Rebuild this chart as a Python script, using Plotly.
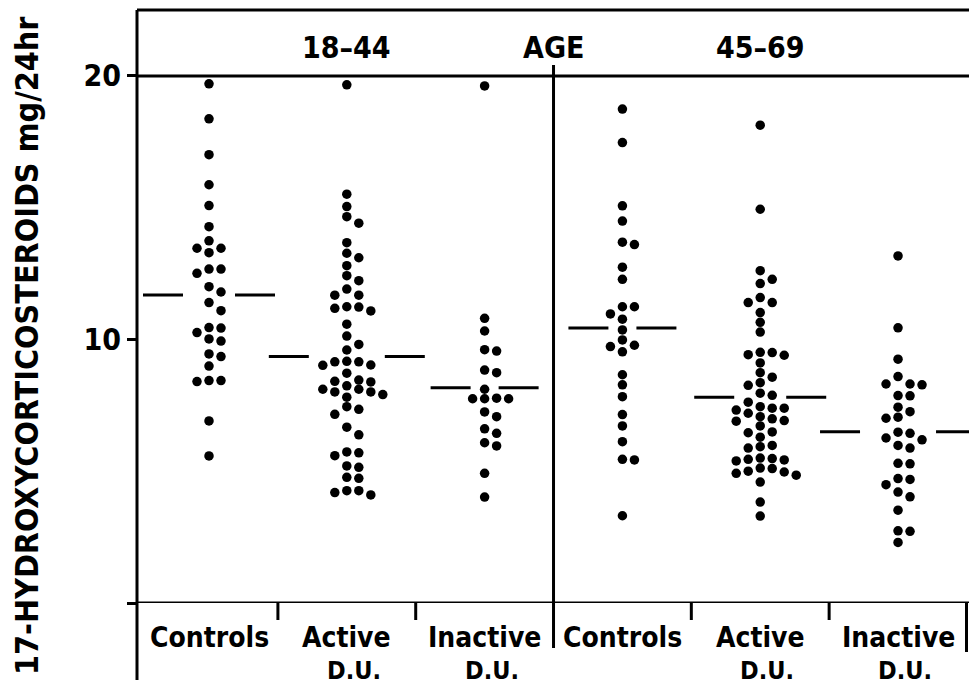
import plotly.graph_objects as go

# ---------------- data ----------------
label_line1 = ["Controls", "Active", "Inactive", "Controls", "Active", "Inactive"]
label_line2 = ["", "D.U.", "D.U.", "", "D.U.", "D.U."]
age_labels = ["18–44", "AGE", "45–69"]
y_title = "17-HYDROXYCORTICOSTEROIDS mg/24hr"
ytick_vals = [0, 10, 20]
ytick_text = ["", "10", "20"]

young_controls = [19.70, 18.37, 17.01, 15.87, 15.08, 14.28, 13.74, 13.46, 13.46, 13.29,
                  12.67, 12.67, 12.51, 12.00, 11.80, 11.40, 11.09, 10.45, 10.43, 10.26,
                  10.02, 9.94, 9.45, 9.35, 8.99, 8.44, 8.44, 8.40, 6.91, 5.58]
young_active = [19.66, 15.51, 15.04, 14.66, 14.41, 13.67, 13.27, 13.10, 12.80, 12.42,
                12.23, 11.91, 11.68, 11.68, 11.24, 11.23, 11.18, 11.08, 10.58, 10.13,
                9.81, 9.60, 9.17, 9.15, 9.15, 9.03, 9.02, 8.72, 8.46, 8.41,
                8.39, 8.24, 8.11, 8.11, 8.01, 8.01, 7.91, 7.81, 7.45, 7.35,
                7.16, 6.67, 6.38, 5.73, 5.70, 5.59, 5.20, 5.15, 4.77, 4.73,
                4.26, 4.26, 4.19, 4.10]
young_inactive = [19.62, 10.80, 10.32, 9.61, 9.56, 8.84, 8.74, 8.11, 7.77, 7.75,
                  7.75, 7.75, 7.25, 7.07, 6.61, 6.44, 6.08, 5.96, 4.92, 4.02]
old_controls = [18.74, 17.47, 15.07, 14.49, 13.69, 13.60, 12.74, 12.28, 11.24, 11.24,
                10.97, 10.77, 10.36, 9.98, 9.78, 9.73, 9.53, 8.66, 8.28, 7.83,
                7.15, 6.72, 6.12, 5.45, 5.43, 3.31]
old_active = [18.13, 14.94, 12.61, 12.28, 12.12, 11.59, 11.40, 11.40, 11.02, 10.65,
              10.28, 9.51, 9.50, 9.42, 9.40, 9.11, 8.74, 8.57, 8.36, 8.26,
              7.96, 7.88, 7.62, 7.45, 7.39, 7.39, 7.32, 7.20, 7.07, 6.99,
              6.92, 6.90, 6.72, 6.49, 6.46, 6.29, 5.98, 5.93, 5.88, 5.50,
              5.48, 5.45, 5.43, 5.39, 5.12, 5.10, 5.00, 4.97, 4.92, 4.85,
              4.59, 3.83, 3.30]
old_inactive = [13.17, 10.44, 9.25, 8.59, 8.31, 8.31, 8.28, 7.87, 7.86, 7.43,
                7.26, 7.05, 7.01, 6.48, 6.44, 6.26, 6.19, 5.98, 5.88, 5.30,
                5.28, 4.72, 4.69, 4.49, 4.21, 4.03, 3.52, 2.74, 2.72, 2.30]
series = [young_controls, young_active, young_inactive, old_controls, old_active, old_inactive]
medians = [11.69, 9.35, 8.17, 10.43, 7.81, 6.50]

# ---------------- layout geometry ----------------
W, H = 969, 688
L, R, T, B = 137, 0, 10, 85
xr = [-0.5225, 5.515]
yr = [0, 22.5]
pw, ph = W - L - R, H - T - B
xpx = pw / (xr[1] - xr[0])
ypx = ph / (yr[1] - yr[0])
COL = 12.0   # px between swarm columns
DIAM = 9.0   # px collision distance
FONT = "DejaVu Sans Condensed, DejaVu Sans, sans-serif"


def swarm(vals):
    placed = []
    for v in sorted(vals, reverse=True):
        yp = v * ypx
        xo = 0.0
        for k in [0, 1, -1, 2, -2, 3, -3, 4, -4, 5, -5, 6, -6, 7, -7]:
            xo = k * COL
            if all((xo - a) ** 2 + (yp - b) ** 2 >= DIAM ** 2 for a, b in placed):
                break
        placed.append((xo, yp))
    return placed


fig = go.Figure()
dx, dy = [], []
mx, my = [], []
for gi, vals in enumerate(series):
    pts = swarm(vals)
    for xo, yp in pts:
        dx.append(gi + xo / xpx)
        dy.append(yp / ypx)
    mp = medians[gi] * ypx
    near = [abs(xo) for xo, yp in pts if abs(yp - mp) < 10]
    gap = (max(near) if near else 0) + 14
    outer = gap + 40
    for s in (-1, 1):
        mx += [gi + s * gap / xpx, gi + s * outer / xpx, None]
        my += [medians[gi], medians[gi], None]

fig.add_trace(go.Scatter(x=mx, y=my, mode="lines", line=dict(color="black", width=3),
                         showlegend=False, hoverinfo="skip"))
fig.add_trace(go.Scatter(x=dx, y=dy, mode="markers",
                         marker=dict(color="black", size=9.5, line=dict(width=0)),
                         showlegend=False))


def py(p):  # pixel y -> paper
    return (H - B - p) / ph


def f(size):
    return dict(size=size, color="black", family=FONT, weight="bold")


LW = 3
shapes = [
    dict(type="line", xref="paper", yref="paper", x0=0, x1=1, y0=1, y1=1),
    dict(type="line", xref="paper", yref="paper", x0=0, x1=0, y0=1, y1=py(680)),
    dict(type="line", xref="paper", yref="y", x0=0, x1=1, y0=20, y1=20),
    dict(type="line", xref="paper", yref="y", x0=0, x1=1, y0=0, y1=0),
    dict(type="line", xref="x", yref="paper", x0=2.5, x1=2.5, y0=py(65), y1=py(648)),
    dict(type="line", xref="paper", yref="paper", x0=0.997, x1=0.997, y0=0, y1=py(652)),
]
for xt in [0.5, 1.5, 3.5, 4.5]:
    shapes.append(dict(type="line", xref="x", yref="paper", x0=xt, x1=xt, y0=0, y1=py(620)))
for s in shapes:
    s["line"] = dict(color="black", width=LW)

ann = []
for xa, t in zip([1, 2.5, 4], age_labels):
    ann.append(dict(x=xa, y=py(48), xref="x", yref="paper", text=t, showarrow=False,
                    font=f(30), yanchor="middle"))
for gi in range(6):
    ann.append(dict(x=gi, y=py(637), xref="x", yref="paper", text=label_line1[gi],
                    showarrow=False, yanchor="middle", font=f(28)))
    if label_line2[gi]:
        ann.append(dict(x=gi + 0.05, y=py(670), xref="x", yref="paper", text=label_line2[gi],
                        showarrow=False, yanchor="middle", font=f(25)))
ann.append(dict(x=(27 - L) / pw, y=py(346), xref="paper", yref="paper", text=y_title,
                textangle=-90, showarrow=False, xanchor="center", yanchor="middle",
                font=f(32)))

fig.update_layout(
    width=W, height=H,
    margin=dict(l=L, r=R, t=T, b=B, pad=0),
    paper_bgcolor="white", plot_bgcolor="white",
    xaxis=dict(range=xr, showticklabels=False, ticks="", showgrid=False, zeroline=False,
               showline=False),
    yaxis=dict(range=yr, tickvals=ytick_vals, ticktext=ytick_text, ticks="outside",
               ticklen=9, tickwidth=3, tickcolor="black", showgrid=False, zeroline=False,
               showline=False, tickfont=f(30)),
    shapes=shapes, annotations=ann,
)
fig.write_html("out.html")
